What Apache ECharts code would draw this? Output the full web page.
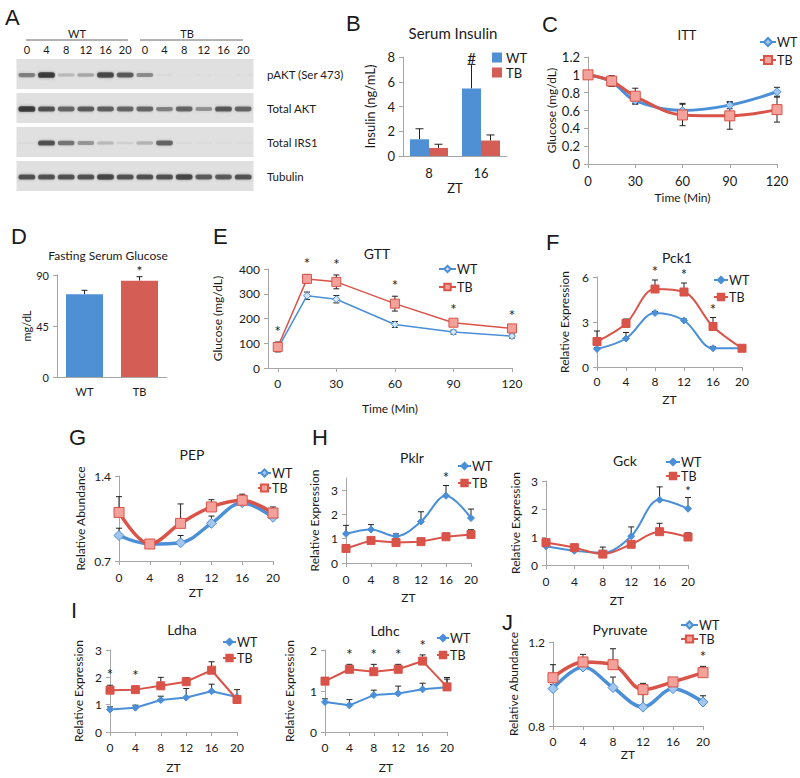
<!DOCTYPE html>
<html><head><meta charset="utf-8">
<script src="https://cdn.jsdelivr.net/npm/echarts@6/dist/echarts.min.js"></script>
<style>html,body{margin:0;padding:0;background:#fff}#c{width:800px;height:778px}</style>
</head><body><div id="c"></div>
<script>
// ---------------- DATA ----------------
const blotLanes = ['0','4','8','12','16','20','0','4','8','12','16','20'];
const blotRows = ['pAKT (Ser 473)','Total AKT','Total IRS1','Tubulin'];
const bandPAKT = [0.5,0.9,0.22,0.3,0.8,0.7,0.45,0.03,0.02,0.02,0.02,0.02];
const bandAKT  = [0.9,0.75,0.65,0.7,0.68,0.65,0.65,0.5,0.65,0.42,0.72,0.65];
const bandIRS1 = [0.03,0.75,0.55,0.4,0.22,0.08,0.25,0.65,0.03,0.02,0.02,0.02];
const bandTub  = [0.75,0.75,0.75,0.75,0.8,0.75,0.75,0.75,0.8,0.7,0.7,0.75];

const insulinZT = ['8','16'];
const insulinWT = [1.35,5.45];
const insulinWTErr = [0.85,1.95];
const insulinTB = [0.65,1.25];
const insulinTBErr = [0.3,0.45];

const ittTime = [0,15,30,60,90,120];
const ittWT = [1.0,0.92,0.71,0.60,0.66,0.81];
const ittWTErr = [0.02,0.05,0.03,0.08,0.04,0.05];
const ittTB = [1.0,0.93,0.76,0.55,0.54,0.61];
const ittTBErr = [0.02,0.06,0.09,0.12,0.15,0.14];

const fastGroups = ['WT','TB'];
const fastGlucose = [73,85];
const fastGlucoseErr = [3.5,3.5];

const gttTime = [0,15,30,60,90,120];
const gttWT = [78,292,278,176,145,129];
const gttWTErr = [10,15,15,12,8,8];
const gttTB = [85,360,348,260,183,160];
const gttTBErr = [20,18,28,30,10,8];
const gttSig = [1,1,1,1,1,1];

const ztHours = [0,4,8,12,16,20];
const pck1WT = [1.2,1.9,3.6,3.1,1.25,1.25];
const pck1WTErr = [0.1,0.4,0.1,0.1,0.1,0.1];
const pck1TB = [1.7,2.9,5.2,5.0,2.7,1.25];
const pck1TBErr = [0.7,0.3,0.6,0.6,0.6,0.1];
const pck1Sig = [0,0,1,1,1,0];

const pepWT = [0.91,0.84,0.85,1.01,1.18,1.06];
const pepWTErr = [0.06,0.03,0.06,0.06,0.02,0.02];
const pepTB = [1.10,0.84,1.01,1.145,1.20,1.095];
const pepTBErr = [0.13,0.02,0.16,0.06,0.05,0.05];

const pklrWT = [1.2,1.38,1.1,1.71,2.77,1.85];
const pklrWTErr = [0.35,0.2,0.1,0.4,0.42,0.37];
const pklrTB = [0.6,0.93,0.84,0.88,1.08,1.17];
const pklrTBErr = [0.15,0.08,0.05,0.05,0.15,0.2];
const pklrSig = [0,0,0,0,1,0];

const gckWT = [0.67,0.51,0.44,1.03,2.33,2.01];
const gckWTErr = [0.24,0.05,0.2,0.33,0.46,0.4];
const gckTB = [0.8,0.62,0.39,0.74,1.19,1.0];
const gckTBErr = [0.12,0.05,0.05,0.05,0.3,0.15];
const gckSig = [0,0,0,0,0,1];

const ldhaWT = [0.82,0.89,1.17,1.26,1.49,1.28];
const ldhaWTErr = [0.1,0.09,0.14,0.33,0.26,0.27];
const ldhaTB = [1.53,1.55,1.69,1.84,2.26,1.19];
const ldhaTBErr = [0.18,0.12,0.31,0.15,0.31,0.1];
const ldhaSig = [1,1,0,0,0,0];

const ldhcWT = [0.73,0.65,0.9,0.94,1.04,1.09];
const ldhcWTErr = [0.08,0.14,0.12,0.18,0.15,0.2];
const ldhcTB = [1.24,1.53,1.47,1.53,1.73,1.1];
const ldhcTBErr = [0.09,0.12,0.18,0.12,0.15,0.23];
const ldhcSig = [0,1,1,1,1,0];

const pyrWT = [0.978,1.081,0.983,0.89,0.978,0.914];
const pyrWTErr = [0.02,0.01,0.05,0.06,0.01,0.03];
const pyrTB = [1.03,1.105,1.092,0.973,1.01,1.054];
const pyrTBErr = [0.062,0.036,0.076,0.03,0.01,0.03];
const pyrSig = [0,0,0,0,0,1];

// ---------------- STYLE / HELPERS ----------------
const BLUE='#4a8fd8', RED='#d95349', BARBLUE='#4f8fd3', BARRED='#d45d55', LBLUE='#a3c6ee', LRED='#f3a29b';
const AX='#a6a6a6', TXT='#1a1a1a', FONT='Lato, "Open Sans", sans-serif';
const grids=[], xAxes=[], yAxes=[], series=[], legends=[], graphics=[];

function merge(a,b){ for(const k in b){ const v=b[k]; if(v && typeof v==='object' && !Array.isArray(v) && a[k] && typeof a[k]==='object' && !Array.isArray(a[k])) merge(a[k],v); else a[k]=v; } return a; }
function addGrid(l,t,w,h){ grids.push({left:l,top:t,width:w,height:h}); return grids.length-1; }
function axisBase(gi){ return {gridIndex:gi, splitLine:{show:false}, axisLine:{show:true,onZero:false,lineStyle:{color:AX,width:1}}, axisTick:{show:true,length:4,lineStyle:{color:AX}}, axisLabel:{color:TXT,fontFamily:FONT,fontSize:12,margin:8}, nameLocation:'middle', nameTextStyle:{color:TXT,fontFamily:FONT,fontSize:12}}; }
function addX(gi,o){ xAxes.push(merge(merge({type:'value'},axisBase(gi)),o||{})); }
function addY(gi,o){ yAxes.push(merge(merge({type:'value'},axisBase(gi)),o||{})); }
function txt(x,y,s,size,opt){ graphics.push({type:'text', x:x, y:y, silent:true, style:merge({text:s, fill:TXT, fontSize:size, fontFamily:FONT, align:'center', verticalAlign:'middle'}, opt||{})}); }
function letter(x,y,s){ txt(x,y,s,22,{align:'left', fontFamily:'"Liberation Sans", Arial, sans-serif'}); }

function errSeries(gi, xs, ys, es, both, cap, dx){
  return {type:'custom', xAxisIndex:gi, yAxisIndex:gi, silent:true, z:2,
    data: xs.map((x,i)=>[x, ys[i], es[i]]),
    renderItem(p, api){
      const x=api.value(0), y=api.value(1), e=api.value(2), off=dx||0;
      const t=api.coord([x,y+e]), m=api.coord([x,y]), b=both?api.coord([x,y-e]):m;
      const st={stroke:'#222', lineWidth:1};
      const ch=[{type:'line', shape:{x1:t[0]+off,y1:t[1],x2:b[0]+off,y2:b[1]}, style:st},
                {type:'line', shape:{x1:t[0]+off-cap,y1:t[1],x2:t[0]+off+cap,y2:t[1]}, style:st}];
      if(both) ch.push({type:'line', shape:{x1:b[0]+off-cap,y1:b[1],x2:b[0]+off+cap,y2:b[1]}, style:st});
      return {type:'group', children:ch};
    }};
}
function sigSeries(gi, xs, tops, flags, ch, dy, dx, fs){
  return {type:'custom', xAxisIndex:gi, yAxisIndex:gi, silent:true, z:6,
    data: xs.map((x,i)=>[x, tops[i], flags[i]]),
    renderItem(p, api){
      if(!api.value(2)) return null;
      const c=api.coord([api.value(0), api.value(1)]);
      return {type:'text', x:c[0]+(dx||0), y:c[1]-dy, style:{text:ch, fill:TXT, fontSize:fs||15, fontFamily:FONT, align:'center', verticalAlign:'middle'}};
    }};
}
function lineS(gi, name, xs, ys, color, sym, size, fill, lw, smooth){
  return {type:'line', name:name, xAxisIndex:gi, yAxisIndex:gi, data: xs.map((x,i)=>[x, ys[i]]),
    smooth: smooth?0.35:false, symbol:sym, symbolSize:size, showAllSymbol:true,
    lineStyle:{color:color, width:lw}, itemStyle:{color:fill, borderColor:color, borderWidth:1}, z:4};
}
function addLegend(key, left, top, gap, iw, sym){
  legends.push({data:[key+':WT', key+':TB'], left:left, top:top, orient:'vertical', itemGap:gap, itemWidth:iw, itemHeight:sym||9, padding:0, selectedMode:false,
    formatter: n=>n.split(':')[1], textStyle:{fontFamily:FONT, fontSize:12.5, lineHeight:13, color:TXT, padding:[0,0,0,-4]}});
}
function tops(v,e){ return v.map((x,i)=>x+e[i]); }

// ---------------- A: blot ----------------
const gA = addGrid(17,57,236,136);
xAxes.push({type:'category', gridIndex:gA, position:'top', data:blotLanes, axisLine:{show:false}, axisTick:{show:false}, splitLine:{show:false}, axisLabel:{color:TXT,fontFamily:FONT,fontSize:11,margin:2,interval:0}});
yAxes.push({type:'category', gridIndex:gA, position:'right', inverse:true, data:blotRows, axisLine:{show:false}, axisTick:{show:false}, splitLine:{show:false}, axisLabel:{color:TXT,fontFamily:FONT,fontSize:11.5,margin:14,align:'left'}});
const blotData=[];
[bandPAKT,bandAKT,bandIRS1,bandTub].forEach((row,r)=>row.forEach((v,l)=>blotData.push([l,r,v])));
series.push({type:'custom', xAxisIndex:gA, yAxisIndex:gA, silent:true, data:blotData,
  renderItem(p, api){
    const l=api.value(0), r=api.value(1), v=api.value(2);
    const c=api.coord([l,r]), s=api.size([1,1]), w=s[0], h=s[1];
    const bh=h*(0.07+0.11*v);
    return {type:'group', children:[
      {type:'rect', shape:{x:c[0]-w/2-0.5, y:c[1]-h/2+2, width:w+1, height:h-4}, style:{fill:'#e0e0e0'}},
      {type:'rect', shape:{x:c[0]-w*0.43, y:c[1]+1-bh/2, width:w*0.86, height:bh, r:bh/2}, style:{fill:'rgba(35,35,35,'+(v*0.9)+')', shadowBlur:3, shadowColor:'rgba(35,35,35,'+(v*0.6)+')'}}
    ]};
  }});
letter(5,17,'A');
txt(77,33,'WT',11); txt(187,33,'TB',11);
graphics.push({type:'line', silent:true, shape:{x1:26,y1:40,x2:128,y2:40}, style:{stroke:'#666',lineWidth:1}});
graphics.push({type:'line', silent:true, shape:{x1:140,y1:40,x2:243,y2:40}, style:{stroke:'#666',lineWidth:1}});

// ---------------- B: serum insulin ----------------
const gB = addGrid(403,57,104,99);
xAxes.push(merge(axisBase(gB), {type:'category', data:insulinZT, axisTick:{show:false}, axisLabel:{fontSize:13,margin:10}, name:'ZT', nameGap:25, nameTextStyle:{fontSize:13}}));
addY(gB,{min:0,max:8,interval:2, axisLabel:{fontSize:13}, name:'Insulin (ng/mL)', nameGap:27, nameTextStyle:{fontSize:13}});
series.push({type:'bar', name:'B:WT', xAxisIndex:gB, yAxisIndex:gB, data:insulinWT, barWidth:19, barGap:'0%', itemStyle:{color:BARBLUE}});
series.push({type:'bar', name:'B:TB', xAxisIndex:gB, yAxisIndex:gB, data:insulinTB, barWidth:19, barGap:'0%', itemStyle:{color:BARRED}});
series.push(errSeries(gB,[0,1],insulinWT,insulinWTErr,false,4,-9.5));
series.push(errSeries(gB,[0,1],insulinTB,insulinTBErr,false,4,9.5));
series.push(sigSeries(gB,[0,1],tops(insulinWT,insulinWTErr),[0,1],'#',6,-9.5,15));
legends.push({data:['B:WT','B:TB'], left:492, top:51, orient:'vertical', itemGap:2, itemWidth:10, itemHeight:10, padding:0, selectedMode:false, icon:'rect',
  formatter:n=>n.split(':')[1], textStyle:{fontFamily:FONT,fontSize:13,lineHeight:12,color:TXT,padding:[0,0,0,-1]}});
letter(346,23,'B');
txt(453,33,'Serum Insulin',15);

// ---------------- C: ITT ----------------
const gC = addGrid(588,57,189,107);
addX(gC,{min:0,max:120,interval:30, axisLabel:{fontSize:13,margin:10}, name:'Time (Min)', nameGap:27});
addY(gC,{min:0,max:1.2,interval:0.2, axisLabel:{fontSize:13}, name:'Glucose (mg/dL)', nameGap:31});
series.push(errSeries(gC,ittTime,ittWT,ittWTErr,true,3));
series.push(errSeries(gC,ittTime,ittTB,ittTBErr,true,3));
series.push(lineS(gC,'C:WT',ittTime,ittWT,BLUE,'diamond',8,LBLUE,3,true));
series.push(lineS(gC,'C:TB',ittTime,ittTB,RED,'rect',10,LRED,3,true));
addLegend('C',759,35.5,5,16,10);
letter(542,24,'C');
txt(687,35,'ITT',13);

// ---------------- D: fasting glucose ----------------
const gD = addGrid(57,275,110,102);
xAxes.push(merge(axisBase(gD), {type:'category', data:fastGroups, axisTick:{show:false}, axisLabel:{fontSize:11,margin:9}}));
addY(gD,{min:0,max:90,interval:45, axisLabel:{fontSize:11}, name:'mg/dL', nameGap:24, nameTextStyle:{fontSize:11}});
series.push({type:'bar', xAxisIndex:gD, yAxisIndex:gD, barWidth:37, data:fastGlucose.map((v,i)=>({value:v, itemStyle:{color:i?BARRED:BARBLUE}}))});
series.push(errSeries(gD,[0,1],fastGlucose,fastGlucoseErr,false,3));
series.push(sigSeries(gD,[0,1],tops(fastGlucose,fastGlucoseErr),[0,1],'*',6,0,14));
letter(11,236,'D');
txt(108,255,'Fasting Serum Glucose',12);

// ---------------- E: GTT ----------------
const gE = addGrid(268,269,244,99);
addX(gE,{min:-5,max:120, axisLabel:{customValues:[0,30,60,90,120], margin:9}, axisTick:{customValues:[0,30,60,90,120]}, name:'Time (Min)', nameGap:34});
addY(gE,{min:0,max:400,interval:100, name:'Glucose (mg/dL)', nameGap:45});
series.push(errSeries(gE,gttTime,gttWT,gttWTErr,true,3));
series.push(errSeries(gE,gttTime,gttTB,gttTBErr,true,3));
series.push(lineS(gE,'E:WT',gttTime,gttWT,BLUE,'diamond',7,'#d6e5f7',1.5,false));
series.push(lineS(gE,'E:TB',gttTime,gttTB,RED,'rect',9,LRED,1.5,false));
series.push(sigSeries(gE,gttTime,tops(gttTB,gttTBErr),gttSig,'*',11));
addLegend('E',438,262.5,5,17,8);
letter(213,236,'E');
txt(377,253,'GTT',14);

// ---------------- F: Pck1 ----------------
const gF = addGrid(597,277,145,90);
addX(gF,{min:0,max:20,interval:4, name:'ZT', nameGap:26});
addY(gF,{min:0,max:6,interval:3, name:'Relative Expression', nameGap:27});
series.push(errSeries(gF,ztHours,pck1WT,pck1WTErr,false,3));
series.push(errSeries(gF,ztHours,pck1TB,pck1TBErr,false,3));
series.push(lineS(gF,'F:WT',ztHours,pck1WT,BLUE,'diamond',7,BLUE,2,true));
series.push(lineS(gF,'F:TB',ztHours,pck1TB,RED,'rect',8,RED,2,true));
series.push(sigSeries(gF,ztHours,tops(pck1TB,pck1TBErr),pck1Sig,'*',9));
addLegend('F',713,273.5,4,14,8);
letter(546,242,'F');
txt(677,257,'Pck1',14);

// ---------------- G: PEP ----------------
const gG = addGrid(119,476,154,85);
addX(gG,{min:0,max:20,interval:4, axisLabel:{margin:10}, name:'ZT', nameGap:25});
addY(gG,{min:0.7,max:1.4,interval:0.7, name:'Relative Abundance', nameGap:33});
series.push(errSeries(gG,ztHours,pepWT,pepWTErr,false,3));
series.push(errSeries(gG,ztHours,pepTB,pepTBErr,false,3));
series.push(lineS(gG,'G:WT',ztHours,pepWT,BLUE,'diamond',10,LBLUE,3.5,true));
series.push(lineS(gG,'G:TB',ztHours,pepTB,RED,'rect',10,LRED,3.5,true));
addLegend('G',257,466.5,2,13,9);
letter(69,437,'G');
txt(192,454,'PEP',14);

// ---------------- H: Pklr ----------------
const gH = addGrid(346,478,125,85);
addX(gH,{min:0,max:20,interval:4, axisLabel:{margin:10}, name:'ZT', nameGap:28});
addY(gH,{min:0,max:3.5, axisLabel:{customValues:[0,1,2,3]}, axisTick:{customValues:[0,1,2,3]}, name:'Relative Expression', nameGap:26});
series.push(errSeries(gH,ztHours,pklrWT,pklrWTErr,false,3));
series.push(errSeries(gH,ztHours,pklrTB,pklrTBErr,false,3));
series.push(lineS(gH,'H:WT',ztHours,pklrWT,BLUE,'diamond',7,BLUE,2,true));
series.push(lineS(gH,'H:TB',ztHours,pklrTB,RED,'rect',8,RED,2,false));
series.push(sigSeries(gH,ztHours,tops(pklrWT,pklrWTErr),pklrSig,'*',9));
addLegend('H',457,459.5,4,13,8);
letter(312,437,'H');
txt(412,457,'Pklr',14);

// ---------------- Gck ----------------
const gK = addGrid(546,481,142,84);
addX(gK,{min:0,max:20,interval:4, axisLabel:{margin:10}, name:'ZT', nameGap:29});
addY(gK,{min:0,max:3,interval:1, name:'Relative Expression', nameGap:25});
series.push(errSeries(gK,ztHours,gckWT,gckWTErr,false,3));
series.push(errSeries(gK,ztHours,gckTB,gckTBErr,false,3));
series.push(lineS(gK,'K:WT',ztHours,gckWT,BLUE,'diamond',7,BLUE,2,true));
series.push(lineS(gK,'K:TB',ztHours,gckTB,RED,'rect',8,RED,2,true));
series.push(sigSeries(gK,ztHours,tops(gckWT,gckWTErr),gckSig,'*',7,0,13));
addLegend('K',665,455.5,1,14,8);
txt(625,460,'Gck',14);

// ---------------- I: Ldha ----------------
const gI = addGrid(110,650,127,82);
addX(gI,{min:0,max:20,interval:4, axisLabel:{margin:9}, name:'ZT', nameGap:29});
addY(gI,{min:0,max:3,interval:1, name:'Relative Expression', nameGap:26});
series.push(errSeries(gI,ztHours,ldhaWT,ldhaWTErr,false,3));
series.push(errSeries(gI,ztHours,ldhaTB,ldhaTBErr,false,3));
series.push(lineS(gI,'I:WT',ztHours,ldhaWT,BLUE,'diamond',7,BLUE,2,false));
series.push(lineS(gI,'I:TB',ztHours,ldhaTB,RED,'rect',8,RED,2,false));
series.push(sigSeries(gI,ztHours,tops(ldhaTB,ldhaTBErr),ldhaSig,'*',11));
addLegend('I',222,635.5,3,13,8);
letter(71,610,'I');
txt(182,629,'Ldha',14);

// ---------------- Ldhc ----------------
const gL = addGrid(325,650,122,82);
addX(gL,{min:0,max:20,interval:4, axisLabel:{margin:9}, name:'ZT', nameGap:29});
addY(gL,{min:0,max:2,interval:1, name:'Relative Expression', nameGap:30});
series.push(errSeries(gL,ztHours,ldhcWT,ldhcWTErr,false,3));
series.push(errSeries(gL,ztHours,ldhcTB,ldhcTBErr,false,3));
series.push(lineS(gL,'L:WT',ztHours,ldhcWT,BLUE,'diamond',7,BLUE,2,false));
series.push(lineS(gL,'L:TB',ztHours,ldhcTB,RED,'rect',8,RED,2,false));
series.push(sigSeries(gL,ztHours,tops(ldhcTB,ldhcTBErr),ldhcSig,'*',10));
addLegend('L',436,631.5,4,12,8);
txt(385,630,'Ldhc',14);

// ---------------- J: Pyruvate ----------------
const gJ = addGrid(553,642,150,84);
addX(gJ,{min:0,max:20,interval:4, axisLabel:{margin:9}, name:'ZT', nameGap:22});
addY(gJ,{min:0.8,max:1.2,interval:0.4, name:'Relative Abundance', nameGap:34});
series.push(errSeries(gJ,ztHours,pyrWT,pyrWTErr,false,3));
series.push(errSeries(gJ,ztHours,pyrTB,pyrTBErr,false,3));
series.push(lineS(gJ,'J:WT',ztHours,pyrWT,BLUE,'diamond',10,LBLUE,3.5,true));
series.push(lineS(gJ,'J:TB',ztHours,pyrTB,RED,'rect',10,LRED,3.5,true));
series.push(sigSeries(gJ,ztHours,tops(pyrTB,pyrTBErr),pyrSig,'*',10));
addLegend('J',680,618.5,1,17,9);
letter(502,622,'J');
txt(620,629,'Pyruvate',14);

const chart = echarts.init(document.getElementById('c'), null, {renderer:'svg', width:800, height:778});
chart.setOption({animation:false, backgroundColor:'#fff', grid:grids, xAxis:xAxes, yAxis:yAxes, series:series, legend:legends, graphic:graphics});
</script></body></html>
